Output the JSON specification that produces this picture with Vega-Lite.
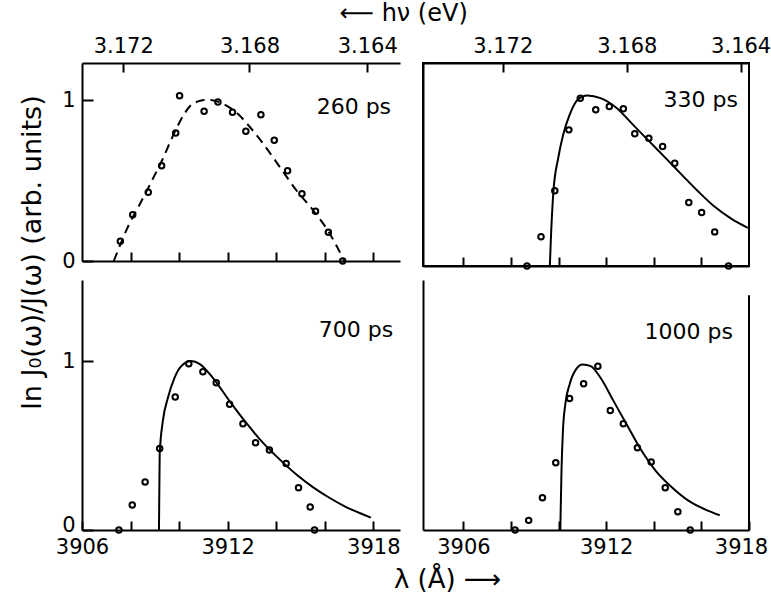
{
  "$schema": "https://vega.github.io/schema/vega-lite/v6.json",
  "background": "white",
  "padding": {"left": 19, "top": 2, "right": 0, "bottom": 0},
  "datasets": {
    "tl_pts": [
      {"lambda": 3907.58, "y": 0.122}, {"lambda": 3908.09, "y": 0.288}, {"lambda": 3908.73, "y": 0.427},
      {"lambda": 3909.28, "y": 0.592}, {"lambda": 3909.86, "y": 0.795}, {"lambda": 3910.02, "y": 1.027},
      {"lambda": 3911.03, "y": 0.93}, {"lambda": 3911.6, "y": 0.988}, {"lambda": 3912.2, "y": 0.924},
      {"lambda": 3912.75, "y": 0.806}, {"lambda": 3913.37, "y": 0.909}, {"lambda": 3913.92, "y": 0.75},
      {"lambda": 3914.47, "y": 0.561}, {"lambda": 3915.06, "y": 0.418}, {"lambda": 3915.62, "y": 0.309},
      {"lambda": 3916.15, "y": 0.178}, {"lambda": 3916.74, "y": 0.0}
    ],
    "tl_fit": [
      {"lambda": 3907.31, "y": 0.0}, {"lambda": 3907.6, "y": 0.11}, {"lambda": 3907.93, "y": 0.225},
      {"lambda": 3908.3, "y": 0.33}, {"lambda": 3908.69, "y": 0.443}, {"lambda": 3909.0, "y": 0.535},
      {"lambda": 3909.31, "y": 0.629}, {"lambda": 3909.62, "y": 0.735}, {"lambda": 3909.93, "y": 0.836},
      {"lambda": 3910.2, "y": 0.91}, {"lambda": 3910.45, "y": 0.963}, {"lambda": 3910.75, "y": 0.99},
      {"lambda": 3911.03, "y": 1.0}, {"lambda": 3911.3, "y": 1.0}, {"lambda": 3911.6, "y": 0.99},
      {"lambda": 3912.0, "y": 0.96}, {"lambda": 3912.34, "y": 0.925}, {"lambda": 3912.89, "y": 0.837},
      {"lambda": 3913.44, "y": 0.733}, {"lambda": 3914.13, "y": 0.588}, {"lambda": 3914.81, "y": 0.443},
      {"lambda": 3915.5, "y": 0.319}, {"lambda": 3916.19, "y": 0.174}, {"lambda": 3916.5, "y": 0.09},
      {"lambda": 3916.81, "y": 0.0}
    ],
    "tr_pts": [
      {"lambda": 3908.67, "y": 0.0}, {"lambda": 3909.26, "y": 0.171}, {"lambda": 3909.84, "y": 0.441},
      {"lambda": 3910.43, "y": 0.798}, {"lambda": 3910.91, "y": 0.984}, {"lambda": 3911.56, "y": 0.916},
      {"lambda": 3912.13, "y": 0.935}, {"lambda": 3912.72, "y": 0.922}, {"lambda": 3913.2, "y": 0.775},
      {"lambda": 3913.79, "y": 0.749}, {"lambda": 3914.37, "y": 0.7}, {"lambda": 3914.88, "y": 0.602},
      {"lambda": 3915.47, "y": 0.372}, {"lambda": 3916.01, "y": 0.314}, {"lambda": 3916.56, "y": 0.2},
      {"lambda": 3917.14, "y": 0.0}
    ],
    "tr_fit": [
      {"lambda": 3909.63, "y": 0.0}, {"lambda": 3909.68, "y": 0.18}, {"lambda": 3909.78, "y": 0.435},
      {"lambda": 3909.98, "y": 0.631}, {"lambda": 3910.19, "y": 0.769}, {"lambda": 3910.46, "y": 0.886},
      {"lambda": 3910.8, "y": 0.975}, {"lambda": 3911.21, "y": 1.0}, {"lambda": 3911.76, "y": 0.984},
      {"lambda": 3912.45, "y": 0.925}, {"lambda": 3913.13, "y": 0.827}, {"lambda": 3913.82, "y": 0.729},
      {"lambda": 3914.51, "y": 0.631}, {"lambda": 3915.19, "y": 0.533}, {"lambda": 3915.88, "y": 0.435},
      {"lambda": 3916.56, "y": 0.347}, {"lambda": 3917.25, "y": 0.278}, {"lambda": 3917.95, "y": 0.224}
    ],
    "bl_pts": [
      {"lambda": 3907.52, "y": 0.0}, {"lambda": 3908.07, "y": 0.148}, {"lambda": 3908.6, "y": 0.284},
      {"lambda": 3909.2, "y": 0.483}, {"lambda": 3909.84, "y": 0.787}, {"lambda": 3910.4, "y": 0.984},
      {"lambda": 3910.98, "y": 0.937}, {"lambda": 3911.53, "y": 0.872}, {"lambda": 3912.08, "y": 0.744},
      {"lambda": 3912.63, "y": 0.629}, {"lambda": 3913.15, "y": 0.517}, {"lambda": 3913.72, "y": 0.473},
      {"lambda": 3914.41, "y": 0.394}, {"lambda": 3914.92, "y": 0.25}, {"lambda": 3915.4, "y": 0.136},
      {"lambda": 3915.58, "y": 0.0}
    ],
    "bl_fit": [
      {"lambda": 3909.17, "y": 0.0}, {"lambda": 3909.2, "y": 0.448}, {"lambda": 3909.33, "y": 0.645},
      {"lambda": 3909.54, "y": 0.783}, {"lambda": 3909.81, "y": 0.901}, {"lambda": 3910.09, "y": 0.97},
      {"lambda": 3910.5, "y": 1.0}, {"lambda": 3910.84, "y": 0.984}, {"lambda": 3911.39, "y": 0.901},
      {"lambda": 3912.08, "y": 0.763}, {"lambda": 3912.76, "y": 0.635}, {"lambda": 3913.45, "y": 0.517},
      {"lambda": 3914.14, "y": 0.418}, {"lambda": 3914.82, "y": 0.33}, {"lambda": 3915.51, "y": 0.254},
      {"lambda": 3916.19, "y": 0.191}, {"lambda": 3916.88, "y": 0.136}, {"lambda": 3917.56, "y": 0.093},
      {"lambda": 3917.9, "y": 0.073}
    ],
    "br_pts": [
      {"lambda": 3908.17, "y": 0.0}, {"lambda": 3908.74, "y": 0.057}, {"lambda": 3909.32, "y": 0.191},
      {"lambda": 3909.88, "y": 0.398}, {"lambda": 3910.46, "y": 0.779}, {"lambda": 3911.05, "y": 0.866},
      {"lambda": 3911.65, "y": 0.97}, {"lambda": 3912.17, "y": 0.708}, {"lambda": 3912.72, "y": 0.629},
      {"lambda": 3913.31, "y": 0.487}, {"lambda": 3913.89, "y": 0.402}, {"lambda": 3914.48, "y": 0.25},
      {"lambda": 3915.01, "y": 0.108}, {"lambda": 3915.53, "y": 0.0}
    ],
    "br_fit": [
      {"lambda": 3910.07, "y": 0.0}, {"lambda": 3910.12, "y": 0.349}, {"lambda": 3910.18, "y": 0.586},
      {"lambda": 3910.28, "y": 0.744}, {"lambda": 3910.46, "y": 0.862}, {"lambda": 3910.73, "y": 0.951},
      {"lambda": 3911.01, "y": 0.98}, {"lambda": 3911.35, "y": 0.97}, {"lambda": 3911.76, "y": 0.901},
      {"lambda": 3912.31, "y": 0.763}, {"lambda": 3912.86, "y": 0.625}, {"lambda": 3913.41, "y": 0.487},
      {"lambda": 3914.09, "y": 0.349}, {"lambda": 3914.78, "y": 0.25}, {"lambda": 3915.47, "y": 0.172},
      {"lambda": 3916.15, "y": 0.122}, {"lambda": 3916.77, "y": 0.087}
    ]
  },
  "title": {"text": "ln J₀(ω)/J(ω) (arb. units)", "orient": "left", "anchor": "middle", "offset": 8, "dx": 45, "fontSize": 27, "font": "DejaVu Sans", "fontWeight": "normal", "color": "black"},
  "spacing": 6,
  "vconcat": [
    {
      "title": {"text": "⟵ hν (eV)", "orient": "top", "anchor": "middle", "offset": 8, "dx": -13, "fontSize": 24, "font": "DejaVu Sans", "fontWeight": "normal", "color": "black"},
      "spacing": 22,
      "hconcat": [
        {
          "width": 318, "height": 198,
          "resolve": {"axis": {"x": "independent"}},
          "layer": [
            {
              "data": {"name": "tl_fit"},
              "mark": {"type": "line", "color": "black", "strokeWidth": 2, "strokeDash": [9, 6], "interpolate": "monotone"},
              "encoding": {
                "x": {"field": "lambda", "type": "quantitative", "scale": {"domain": [3906, 3919.1], "nice": false, "zero": false},
                      "axis": {"orient": "bottom", "title": null, "values": [3908, 3910, 3912, 3914, 3916, 3918], "labels": false, "tickSize": -9}},
                "y": {"field": "y", "type": "quantitative", "scale": {"domain": [0, 1.23], "nice": false, "zero": false},
                      "axis": {"title": null, "values": [0, 1], "format": "d", "tickSize": -11, "labelPadding": 18}}
              }
            },
            {
              "data": {"name": "tl_pts"},
              "mark": {"type": "point", "shape": "circle", "filled": false, "color": "black", "opacity": 1, "size": 30, "strokeWidth": 2},
              "encoding": {
                "x": {"field": "lambda", "type": "quantitative", "scale": {"domain": [3906, 3919.1], "nice": false, "zero": false},
                      "axis": {"orient": "top", "title": null, "values": [3907.7, 3912.9, 3917.75], "tickSize": -9, "labelPadding": 16, "labelFlush": false,
                               "labelExpr": "datum.value < 3910 ? '3.172' : (datum.value < 3915 ? '3.168' : '3.164')"}},
                "y": {"field": "y", "type": "quantitative", "scale": {"domain": [0, 1.23], "nice": false, "zero": false},
                      "axis": {"title": null, "values": [0, 1], "format": "d", "tickSize": -11, "labelPadding": 18}}
              }
            },
            {
              "data": {"values": [{"label": "260 ps"}]},
              "mark": {"type": "text", "font": "DejaVu Sans", "fontSize": 22, "color": "black", "align": "center", "baseline": "middle"},
              "encoding": {
                "x": {"datum": 3917.2, "type": "quantitative", "scale": {"domain": [3906, 3919.1], "nice": false, "zero": false}, "axis": null},
                "y": {"datum": 0.957, "type": "quantitative", "scale": {"domain": [0, 1.23], "nice": false, "zero": false},
                      "axis": {"title": null, "values": [0, 1], "format": "d", "tickSize": -11, "labelPadding": 18}},
                "text": {"field": "label"}
              }
            }
          ]
        },
        {
          "width": 326, "height": 203,
          "view": {"stroke": "black", "strokeWidth": 2},
          "resolve": {"axis": {"x": "independent"}},
          "layer": [
            {
              "data": {"name": "tr_fit"},
              "mark": {"type": "line", "color": "black", "strokeWidth": 2, "interpolate": "monotone"},
              "encoding": {
                "x": {"field": "lambda", "type": "quantitative", "scale": {"domain": [3904.3, 3918], "nice": false, "zero": false},
                      "axis": {"orient": "bottom", "title": null, "values": [3906, 3908, 3910, 3912, 3914, 3916], "labels": false, "tickSize": -9}},
                "y": {"field": "y", "type": "quantitative", "scale": {"domain": [0, 1.19], "nice": false, "zero": false},
                      "axis": {"title": null, "labels": false, "ticks": false}}
              }
            },
            {
              "data": {"name": "tr_pts"},
              "mark": {"type": "point", "shape": "circle", "filled": false, "color": "black", "opacity": 1, "size": 30, "strokeWidth": 2},
              "encoding": {
                "x": {"field": "lambda", "type": "quantitative", "scale": {"domain": [3904.3, 3918], "nice": false, "zero": false},
                      "axis": {"orient": "top", "title": null, "values": [3907.65, 3912.87, 3917.65], "tickSize": -9, "labelPadding": 16, "labelFlush": false,
                               "labelExpr": "datum.value < 3910 ? '3.172' : (datum.value < 3915 ? '3.168' : '3.164')"}},
                "y": {"field": "y", "type": "quantitative", "scale": {"domain": [0, 1.19], "nice": false, "zero": false},
                      "axis": {"title": null, "labels": false, "ticks": false}}
              }
            },
            {
              "data": {"values": [{"label": "330 ps"}]},
              "mark": {"type": "text", "font": "DejaVu Sans", "fontSize": 22, "color": "black", "align": "center", "baseline": "middle"},
              "encoding": {
                "x": {"datum": 3915.97, "type": "quantitative", "scale": {"domain": [3904.3, 3918], "nice": false, "zero": false}, "axis": null},
                "y": {"datum": 0.976, "type": "quantitative", "scale": {"domain": [0, 1.19], "nice": false, "zero": false},
                      "axis": {"title": null, "labels": false, "ticks": false}},
                "text": {"field": "label"}
              }
            }
          ]
        }
      ]
    },
    {
      "title": {"text": "λ (Å) ⟶", "orient": "bottom", "anchor": "middle", "offset": 10, "dx": 36, "fontSize": 26, "font": "DejaVu Sans", "fontWeight": "normal", "color": "black"},
      "spacing": 22,
      "hconcat": [
        {
          "width": 318, "height": 250,
          "encoding": {
            "x": {"field": "lambda", "type": "quantitative", "scale": {"domain": [3906, 3919.1], "nice": false, "zero": false},
                  "axis": {"orient": "bottom", "title": null, "values": [3906, 3908, 3910, 3912, 3914, 3916, 3918], "format": "d", "tickSize": -9, "labelPadding": 15, "labelFlush": false,
                           "labelExpr": "(datum.value == 3906 || datum.value == 3912 || datum.value == 3918) ? datum.label : ''"}},
            "y": {"field": "y", "type": "quantitative", "scale": {"domain": [0, 1.48], "nice": false, "zero": false},
                  "axis": {"title": null, "values": [0, 1], "format": "d", "tickSize": -11, "labelPadding": 18,
                           "labelOffset": {"condition": {"test": "datum.value == 0", "value": -5}, "value": 0}}}
          },
          "layer": [
            {
              "data": {"name": "bl_fit"},
              "mark": {"type": "line", "color": "black", "strokeWidth": 2, "interpolate": "monotone"}
            },
            {
              "data": {"name": "bl_pts"},
              "mark": {"type": "point", "shape": "circle", "filled": false, "color": "black", "opacity": 1, "size": 30, "strokeWidth": 2}
            },
            {
              "data": {"values": [{"label": "700 ps", "lambda": 3917.29, "y": 1.183}]},
              "mark": {"type": "text", "font": "DejaVu Sans", "fontSize": 22, "color": "black", "align": "center", "baseline": "middle"},
              "encoding": {"text": {"field": "label"}}
            }
          ]
        },
        {
          "width": 326, "height": 250,
          "encoding": {
            "x": {"field": "lambda", "type": "quantitative", "scale": {"domain": [3904.3, 3918], "nice": false, "zero": false},
                  "axis": {"orient": "bottom", "title": null, "values": [3906, 3908, 3910, 3912, 3914, 3916, 3918], "format": "d", "tickSize": -9, "labelPadding": 15, "labelFlush": false,
                           "labelOffset": {"condition": {"test": "datum.value == 3918", "value": -8}, "value": 0},
                           "labelExpr": "(datum.value == 3906 || datum.value == 3912 || datum.value == 3918) ? datum.label : ''"}},
            "y": {"field": "y", "type": "quantitative", "scale": {"domain": [0, 1.48], "nice": false, "zero": false},
                  "axis": {"title": null, "labels": false, "ticks": false}}
          },
          "layer": [
            {
              "data": {"name": "br_fit"},
              "mark": {"type": "line", "color": "black", "strokeWidth": 2, "interpolate": "monotone"}
            },
            {
              "data": {"name": "br_pts"},
              "mark": {"type": "point", "shape": "circle", "filled": false, "color": "black", "opacity": 1, "size": 30, "strokeWidth": 2}
            },
            {
              "data": {"values": [{"label": "1000 ps", "lambda": 3915.47, "y": 1.172}]},
              "mark": {"type": "text", "font": "DejaVu Sans", "fontSize": 22, "color": "black", "align": "center", "baseline": "middle"},
              "encoding": {"text": {"field": "label"}}
            },
            {
              "data": {"values": [{"lambda": 3918, "y": 0, "y_top": 1.39}]},
              "mark": {"type": "rule", "color": "black", "strokeWidth": 2},
              "encoding": {"y2": {"field": "y_top"}}
            }
          ]
        }
      ]
    }
  ],
  "config": {
    "font": "DejaVu Sans",
    "view": {"stroke": null},
    "axis": {"domainColor": "black", "domainWidth": 2, "tickColor": "black", "tickWidth": 2, "labelColor": "black", "labelFont": "DejaVu Sans", "labelFontSize": 21, "grid": false, "labelPadding": 15, "tickSize": -9}
  }
}
